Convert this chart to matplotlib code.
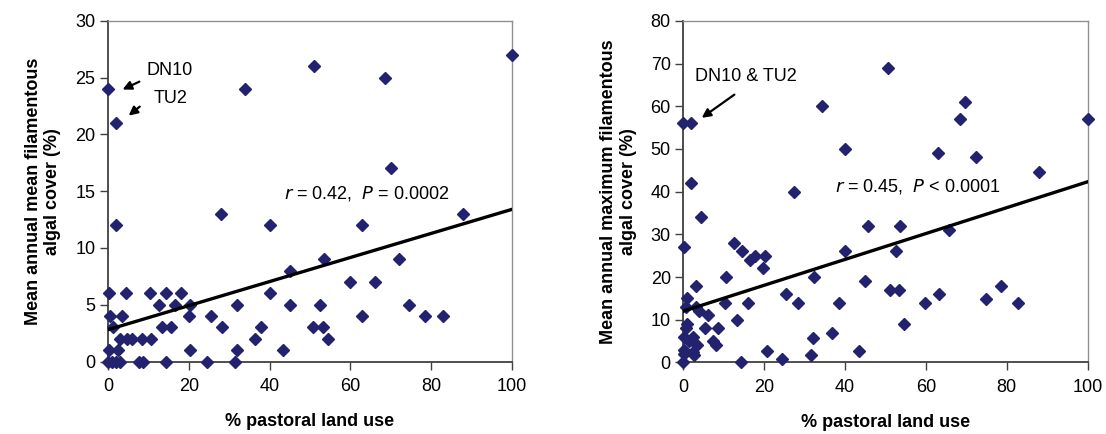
import matplotlib.pyplot as plt
import numpy as np

plt.rcParams['font.family'] = ['Liberation Sans', 'DejaVu Sans']

# left panel: mean annual mean filamentous algal cover
mean_x = [0, 2, 34, 51, 68.5, 100, 70, 88, 63, 2, 28, 40, 45, 72, 53.5, 60, 66,
          0.3, 4.5, 10.5, 14.4, 18, 40, 12.7, 16.6, 20.2, 32, 45, 52.5, 74.5,
          0.5, 3.4, 20, 25.5, 63, 78.5, 83, 1.2, 13.3, 15.6, 28.2, 38, 50.7, 53.3,
          3, 4.6, 6, 8.4, 10.6, 36.3, 54.5, 0.3, 2.6, 20.3, 32, 43.3,
          0, 1, 2, 3, 7.8, 8.6, 14.4, 24.5, 31.5]
mean_y = [24, 21, 24, 26, 25, 27, 17, 13, 12, 12, 13, 12, 8, 9, 9, 7, 7,
          6, 6, 6, 6, 6, 6, 5, 5, 5, 5, 5, 5, 5,
          4, 4, 4, 4, 4, 4, 4, 3, 3, 3, 3, 3, 3, 3,
          2, 2, 2, 2, 2, 2, 2, 1, 1, 1, 1, 1,
          0, 0, 0, 0, 0, 0, 0, 0, 0]

# right panel: mean annual maximum filamentous algal cover
max_x = [0, 2, 34.4, 50.7, 40, 2, 27.5, 4.4, 0.3, 12.6, 14.4, 16.5, 17.7, 20.3,
         19.8, 40, 45.6, 53.6, 52.5, 10.5, 3.2, 32.3, 45, 1, 25.4, 28.4, 10.4,
         16, 38.4, 51, 53.4, 0.7, 3.2, 4, 6.2, 13.4, 0.8, 0.7, 5.4, 8.5, 54.6,
         0.3, 2.3, 7.4, 8.2, 1.5, 3.3, 0.3, 2.3, 0.3, 2.7, 0, 14.3, 43.4, 36.7,
         32, 31.5, 20.8, 24.3, 69.7, 68.5, 100, 63, 72.3, 88, 65.7, 59.8, 63.2,
         74.8, 78.6, 82.9]
max_y = [56, 56, 60, 69, 50, 42, 40, 34, 27, 28, 26, 24, 25, 25,
         22, 26, 32, 32, 26, 20, 18, 20, 19, 15, 16, 14, 14,
         14, 14, 17, 17, 13, 13, 12, 11, 10, 9, 8, 8, 8, 9,
         6, 6, 5, 4, 5, 4, 3, 2.5, 2, 1.7, 0, 0, 2.6, 6.8,
         5.8, 1.8, 2.7, 0.7, 61, 57, 57, 49, 48, 44.7, 31, 14, 16,
         14.8, 18, 14]

# fitted trend lines (intercept, slope) as shown
mean_fit = (2.8, 0.106)
max_fit = (12.0, 0.303)

x_ticks = [0, 20, 40, 60, 80, 100]
mean_ticks = [0, 5, 10, 15, 20, 25, 30]
max_ticks = [0, 10, 20, 30, 40, 50, 60, 70, 80]

navy = '#22226E'
fs = 13

fig = plt.figure(figsize=(11.06, 4.34), dpi=100)
ax1 = fig.add_axes([0.0976, 0.167, 0.3653, 0.785])
ax2 = fig.add_axes([0.6178, 0.165, 0.3656, 0.787])


def style(ax, yticks, ylabel):
    ax.set_xlim(0, 100)
    ax.set_ylim(yticks[0], yticks[-1])
    ax.set_xticks(x_ticks)
    ax.set_yticks(yticks)
    ax.tick_params(labelsize=fs, length=6, width=1, color='#404040', pad=6)
    ax.tick_params(axis='y', pad=3)
    for s in ['left', 'bottom']:
        ax.spines[s].set_color('#404040')
        ax.spines[s].set_linewidth(1.3)
    for s in ['top', 'right']:
        ax.spines[s].set_color('#909090')
        ax.spines[s].set_linewidth(1.0)
    ax.set_xlabel('% pastoral land use', fontsize=fs, fontweight='bold', labelpad=13)
    ax.set_ylabel(ylabel, fontsize=fs, fontweight='bold', labelpad=10)


def panel(ax, xs, ys, fit):
    ax.plot(xs, ys, 'D', color=navy, ms=6.4, clip_on=False, zorder=3)
    lx = np.array([0, 100])
    ax.plot(lx, fit[0] + fit[1] * lx, color='black', lw=2.4, zorder=4)


arrow = dict(arrowstyle='-|>', color='black', lw=1.6, mutation_scale=13)

panel(ax1, mean_x, mean_y, mean_fit)
style(ax1, mean_ticks, 'Mean annual mean filamentous\nalgal cover (%)')
ax1.text(43.5, 14.8, r'$\it{r}$ = 0.42,  $\it{P}$ = 0.0002', fontsize=fs, va='center')
ax1.text(9.6, 25.6, 'DN10', fontsize=fs, va='center')
ax1.text(11.2, 23.2, 'TU2', fontsize=fs, va='center')
ax1.annotate('', xy=(3.0, 23.85), xytext=(8.4, 24.75), arrowprops=arrow)
ax1.annotate('', xy=(4.6, 21.5), xytext=(8.4, 22.6), arrowprops=arrow)

panel(ax2, max_x, max_y, max_fit)
style(ax2, max_ticks, 'Mean annual maximum filamentous\nalgal cover (%)')
ax2.text(37.5, 41.1, r'$\it{r}$ = 0.45,  $\it{P}$ < 0.0001', fontsize=fs, va='center')
ax2.text(2.9, 66.9, 'DN10 & TU2', fontsize=fs, va='center')
ax2.annotate('', xy=(4.0, 56.9), xytext=(13.2, 63.1), arrowprops=arrow)

fig.savefig('out.png', dpi=100)
